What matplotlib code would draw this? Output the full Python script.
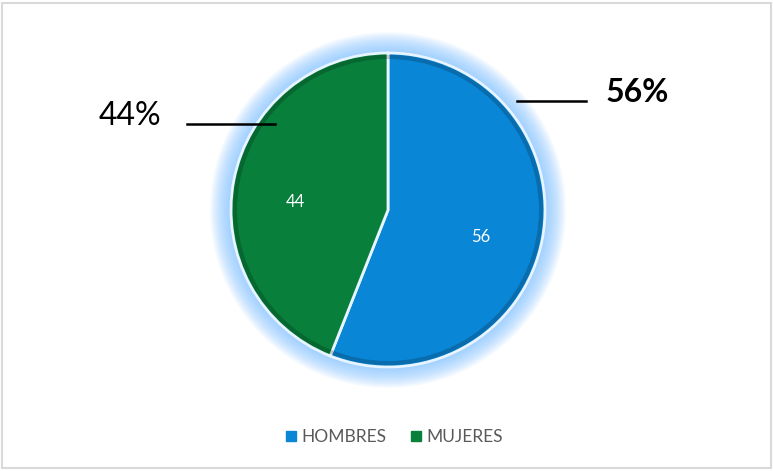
import matplotlib.pyplot as plt
import matplotlib.patches as mpatches
from matplotlib.lines import Line2D

# --- DATA ---
categories = ['HOMBRES', 'MUJERES']
values = [56, 44]
pct_labels = ['56%', '44%']
colors = ['#0a86d6', '#08803c']

W, H = 773, 471
fig = plt.figure(figsize=(W / 100, H / 100), dpi=100)
fig.patch.set_facecolor('white')

# light gray frame around the chart area
fig.add_artist(mpatches.Rectangle((2 / W, 3 / H), 769 / W, 465 / H, transform=fig.transFigure,
                                  fill=False, edgecolor='#d9d9d9', linewidth=1.5))

# pie axes: centre ~ (388, 210) px, radius ~157 px
cx, cy, r = 388, 210, 157
ax = fig.add_axes([(cx - r) / W, (H - cy - r) / H, 2 * r / W, 2 * r / H])
ax.axis('off')

# soft blue glow behind the pie
for i in range(12):
    rad = 1.0 + 0.011 * (12 - i)
    ax.add_patch(mpatches.Circle((0, 0), rad, color='#7cc0ff', alpha=0.09, lw=0, zorder=0,
                                 clip_on=False))

wedges, texts, autotexts = ax.pie(values, colors=colors, startangle=90, counterclock=False,
                                  radius=1.0, autopct=lambda p: f'{p:.0f}', pctdistance=0.6,
                                  wedgeprops=dict(edgecolor='#e8f4ff', linewidth=2),
                                  textprops=dict(color='white', fontsize=12, family=['Lato', 'DejaVu Sans']))
for w in wedges:
    w.set_zorder(2)
    w.set_clip_on(False)
for t in autotexts:
    t.set_zorder(3)
    x, y = t.get_position()
    t.set_position((x, y - 0.06))

# pie() resets the limits, so set them afterwards
ax.set_xlim(-1, 1)
ax.set_ylim(-1, 1)
ax.set_aspect('equal')

# darker inner rim for a bevel look
ax.add_patch(mpatches.Circle((0, 0), 0.975, fill=False, edgecolor='#00000030', lw=3, zorder=2.5))

# percentage callouts
fig.add_artist(Line2D([517 / W, 586 / W], [1 - 101 / H, 1 - 101 / H], color='black', lw=1.8))
fig.text(606 / W, 1 - 93 / H, pct_labels[0], fontsize=23, fontweight='bold', va='center', ha='left',
         family=['Lato', 'DejaVu Sans'])
fig.add_artist(Line2D([187 / W, 275 / W], [1 - 124 / H, 1 - 124 / H], color='black', lw=1.8))
fig.text(99 / W, 1 - 116 / H, pct_labels[1], fontsize=23, va='center', ha='left',
         family=['Lato', 'DejaVu Sans'])

# legend
handles = [Line2D([], [], marker='s', linestyle='none', markersize=7, markerfacecolor=c,
                  markeredgecolor=c) for c in colors]
fig.legend(handles, categories, loc='center', bbox_to_anchor=(393 / W, 1 - 437 / H), ncol=2,
           frameon=False, handletextpad=0.1, columnspacing=1.2, handlelength=1.0,
           prop=dict(family=['Lato', 'DejaVu Sans'], size=12.5), labelcolor='#595959')

fig.savefig('out.png', dpi=100)
